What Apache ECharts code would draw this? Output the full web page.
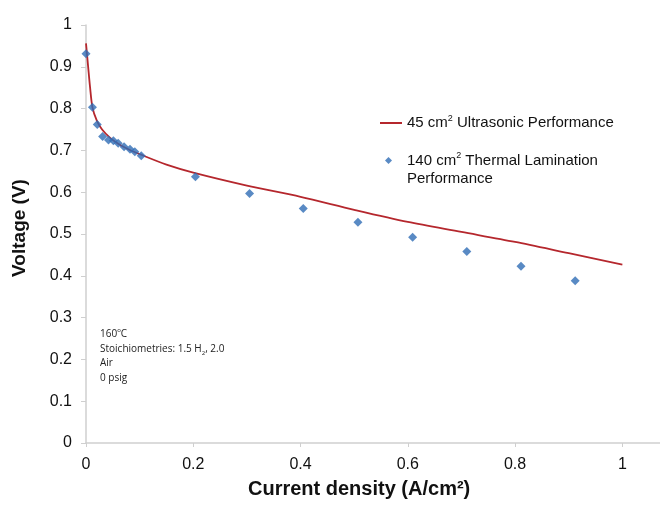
<!DOCTYPE html>
<html>
<head>
<meta charset="utf-8">
<script src="https://cdn.jsdelivr.net/npm/echarts@6/dist/echarts.min.js"></script>
<style>
  html, body { margin: 0; padding: 0; background: #fff; }
  #chart { width: 660px; height: 508px; }
</style>
</head>
<body>
<div id="chart"></div>
<script>
// 45 cm2 曲线
var lineX = [0, 0.004, 0.0075, 0.012, 0.02, 0.03, 0.045, 0.06, 0.08, 0.1, 0.15, 0.2, 0.3, 0.4, 0.5, 0.6, 0.7, 0.8, 0.9, 1.0]
var lineY = [0.956, 0.90, 0.852, 0.803, 0.772, 0.750, 0.730, 0.716, 0.702, 0.691, 0.666, 0.647, 0.616, 0.589, 0.558, 0.529, 0.505, 0.481, 0.454, 0.427]

// 140 cm2 散点
var dotX = [0, 0.012, 0.021, 0.031, 0.042, 0.051, 0.06, 0.071, 0.082, 0.091, 0.103, 0.204, 0.305, 0.405, 0.507, 0.609, 0.71, 0.811, 0.912]
var dotY = [0.931, 0.803, 0.762, 0.733, 0.725, 0.723, 0.717, 0.709, 0.703, 0.697, 0.687, 0.637, 0.597, 0.561, 0.528, 0.492, 0.458, 0.423, 0.388]

var yTicks = ['0', '0.1', '0.2', '0.3', '0.4', '0.5', '0.6', '0.7', '0.8', '0.9', '1']
var xTicks = ['0', '0.2', '0.4', '0.6', '0.8', '1']

// 左下角的说明文字
var notes = ['160{sup|o}C', 'Stoichiometries: 1.5 H{sub|2}, 2.0', 'Air', '0 psig']

function zip(xs, ys) {
  return xs.map(function (x, i) { return [x, ys[i]] })
}

var font = 'Liberation Sans, Arial, sans-serif'
var legendRich = {
  a: { fontFamily: font, fontSize: 15, color: '#111', lineHeight: 18 },
  s: { fontFamily: font, fontSize: 9, color: '#111', verticalAlign: 'top', padding: [0, 0, 6, 0], lineHeight: 18 }
}

var myChart = echarts.init(document.getElementById('chart'))

var option = {
  animation: false,
  backgroundColor: '#fff',
  // x 轴在右侧被裁掉一截（max 1.1 落在画布外）
  grid: { left: 86, top: 25, bottom: 65, width: 590, containLabel: false, outerBoundsMode: 'none' },
  xAxis: {
    type: 'value',
    min: 0,
    max: 1.1,
    interval: 0.2,
    axisLine: { lineStyle: { color: '#cfcfcf', width: 1.5 } },
    axisTick: { show: true, length: 4, lineStyle: { color: '#cfcfcf' } },
    splitLine: { show: false },
    axisLabel: {
      fontFamily: font, fontSize: 16, color: '#111', margin: 14,
      formatter: function (v) {
        var i = Math.round(v / 0.2)
        return Math.abs(v - i * 0.2) < 1e-6 && xTicks[i] !== undefined ? xTicks[i] : ''
      }
    }
  },
  yAxis: {
    type: 'value',
    min: 0,
    max: 1,
    interval: 0.1,
    axisLine: { show: true, lineStyle: { color: '#cfcfcf', width: 1.5 } },
    axisTick: { show: true, length: 5, lineStyle: { color: '#cfcfcf' } },
    splitLine: { show: false },
    axisLabel: {
      fontFamily: font, fontSize: 16, color: '#111', margin: 14,
      formatter: function (v) { return yTicks[Math.round(v * 10)] }
    }
  },
  legend: [
    {
      data: [{ name: '45 cm2 Ultrasonic Performance', icon: 'rect', itemStyle: { color: '#b5272d' } }],
      orient: 'vertical',
      left: 375,
      top: 109,
      itemWidth: 22,
      itemHeight: 2,
      formatter: function () { return '{a|45 cm}{s|2}{a| Ultrasonic Performance}' },
      textStyle: { rich: legendRich }
    },
    {
      data: ['140 cm2 Thermal Lamination Performance'],
      orient: 'vertical',
      left: 380,
      top: 130,
      itemWidth: 7,
      itemHeight: 7,
      formatter: function () { return '{a| }\n{a|140 cm}{s|2}{a| Thermal Lamination}\n{a|Performance}' },
      textStyle: { rich: legendRich, padding: [0, 0, 0, 10] }
    }
  ],
  graphic: [
    {
      type: 'text',
      left: 100,
      top: 327,
      style: {
        text: notes.join('\n'),
        fontFamily: 'Open Sans, sans-serif',
        fontSize: 10,
        fill: '#222',
        lineHeight: 14.5,
        rich: {
          sup: { fontFamily: 'Open Sans, sans-serif', fontSize: 6, fill: '#222', verticalAlign: 'top', lineHeight: 14.5 },
          sub: { fontFamily: 'Open Sans, sans-serif', fontSize: 6, fill: '#222', verticalAlign: 'bottom', lineHeight: 14.5 }
        }
      }
    },
    {
      type: 'text',
      left: 248,
      top: 479,
      style: { text: 'Current density (A/cm²)', fontFamily: font, fontSize: 20, fontWeight: 'bold', fill: '#111' }
    },
    {
      type: 'text',
      x: 20,
      y: 228,
      rotation: Math.PI / 2,
      style: { text: 'Voltage (V)', fontFamily: font, fontSize: 19, fontWeight: 'bold', fill: '#111', align: 'center', verticalAlign: 'middle' }
    }
  ],
  series: [
    {
      name: '45 cm2 Ultrasonic Performance',
      type: 'line',
      data: zip(lineX, lineY),
      smooth: 0.3,
      symbol: 'none',
      lineStyle: { color: '#b5272d', width: 1.8 },
      itemStyle: { color: '#b5272d' },
      z: 2
    },
    {
      name: '140 cm2 Thermal Lamination Performance',
      type: 'scatter',
      data: zip(dotX, dotY),
      symbol: 'diamond',
      symbolSize: 9,
      itemStyle: { color: '#2f6db5' },
      z: 3
    }
  ]
}

myChart.setOption(option)
</script>
</body>
</html>
